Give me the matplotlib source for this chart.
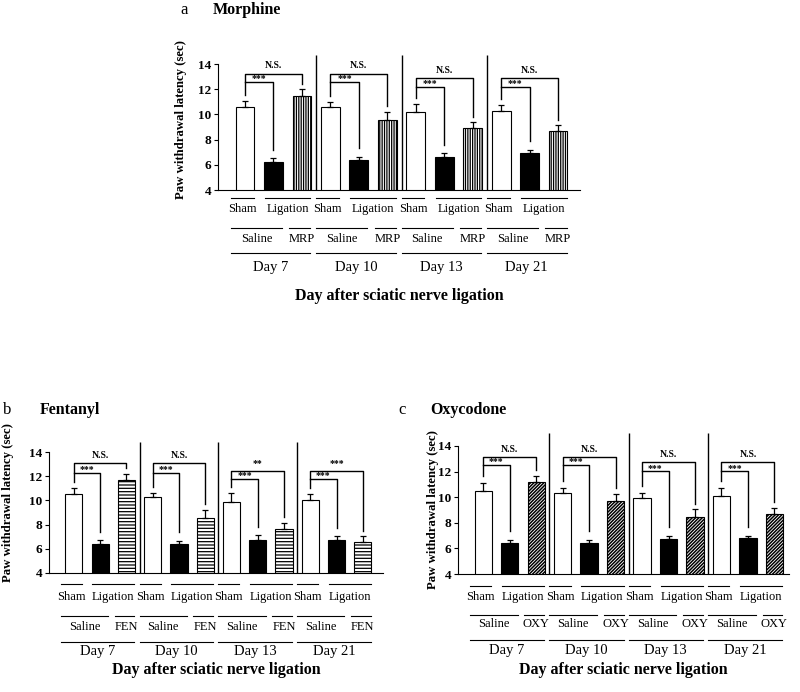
import numpy as np
import matplotlib.pyplot as plt
from matplotlib.transforms import blended_transform_factory

plt.rcParams['font.family'] = ['Liberation Serif', 'DejaVu Serif']
plt.rcParams['hatch.linewidth'] = 0.9

days = ['Day 7', 'Day 10', 'Day 13', 'Day 21']

# a: Morphine (MRP)
sham_a = [10.56, 10.61, 10.19, 10.24]
sham_a_err = [0.48, 0.35, 0.64, 0.48]
lig_a = [6.25, 6.41, 6.59, 6.94]
lig_a_err = [0.26, 0.21, 0.32, 0.23]
mrp = [11.46, 9.53, 8.95, 8.66]
mrp_err = [0.53, 0.69, 0.42, 0.47]
sig_a = ['N.S.', 'N.S.', 'N.S.', 'N.S.']

# b: Fentanyl (FEN)
sham_b = [10.50, 10.28, 9.87, 10.01]
sham_b_err = [0.55, 0.35, 0.77, 0.55]
lig_b = [6.42, 6.42, 6.70, 6.75]
lig_b_err = [0.28, 0.23, 0.40, 0.28]
fen = [11.71, 8.56, 7.66, 6.56]
fen_err = [0.50, 0.66, 0.49, 0.47]
sig_b = ['N.S.', 'N.S.', '**', '***']

# c: Oxycodone (OXY)
sham_c = [10.49, 10.34, 9.90, 10.08]
sham_c_err = [0.65, 0.39, 0.44, 0.65]
lig_c = [6.44, 6.44, 6.70, 6.78]
lig_c_err = [0.21, 0.21, 0.26, 0.21]
oxy = [11.19, 9.69, 8.47, 8.68]
oxy_err = [0.45, 0.54, 0.57, 0.49]
sig_c = ['N.S.', 'N.S.', 'N.S.', 'N.S.']

FIG_H = 692

fig = plt.figure(figsize=(8, 6.92), dpi=100)


def panel(rect, xlim, sham, sham_err, lig, lig_err, drug, drug_err, drug_name,
          hatch, hatch_lw, sig, inner_h, outer_h, sep_top, rows, ylab_xy, width=0.66):
    ax = fig.add_axes(rect)
    n = len(days)
    xs = np.arange(n) * 3
    ax.bar(xs, sham, width, color='white', edgecolor='k', lw=0.8)
    ax.bar(xs + 1, lig, width, color='black', edgecolor='k', lw=0.8)
    with plt.rc_context({'hatch.linewidth': hatch_lw}):
        ax.bar(xs + 2, drug, width, color='white', edgecolor='k', lw=0.8, hatch=hatch)
    for off, m, e in [(0, sham, sham_err), (1, lig, lig_err), (2, drug, drug_err)]:
        ax.errorbar(xs + off, m, yerr=[np.zeros(n), e], fmt='none', ecolor='k',
                    elinewidth=0.9, capsize=2.5, capthick=0.9)

    ax.set_xlim(*xlim)
    ax.set_ylim(4, 14)
    ax.set_yticks(range(4, 15, 2))
    ax.set_xticks([])
    ax.tick_params(axis='y', direction='out', length=3, width=0.8, labelsize=9.5, pad=2)
    for t in ax.get_yticklabels():
        t.set_fontweight('bold')
    for s in ['top', 'right']:
        ax.spines[s].set_visible(False)
    ax.spines['left'].set_linewidth(0.8)
    ax.spines['bottom'].set_linewidth(0.8)
    ax.set_ylabel('Paw withdrawal latency (sec)', fontsize=9.2, fontweight='bold')
    ax.yaxis.set_label_coords(*ylab_xy)

    # group separators
    ax.vlines(xs[1:] - 0.5, 4, sep_top, color='k', lw=1, clip_on=False)

    # significance brackets
    for g in range(n):
        x0, x1, x2 = xs[g], xs[g] + 1, xs[g] + 2
        ih, oh = inner_h[g], outer_h[g]
        sb = sham[g] + sham_err[g] + 0.5
        lb = lig[g] + lig_err[g] + 0.7
        db = drug[g] + drug_err[g] + 0.45
        ax.plot([x0, x0, x2, x2], [sb, oh, oh, db], color='k', lw=1, clip_on=False)
        ax.plot([x0, x1, x1], [ih, ih, lb], color='k', lw=1, clip_on=False)
        ax.annotate('***', ((x0 + x1) / 2, ih), xytext=(0, -1), textcoords='offset points',
                    ha='center', va='bottom', fontsize=7, fontweight='bold')
        ax.annotate(sig[g], ((x0 + x2) / 2, oh), xytext=(0, 2.5), textcoords='offset points',
                    ha='center', va='bottom', fontsize=7, fontweight='bold')

    # category rows under the axis
    tr = blended_transform_factory(ax.transData, ax.transAxes)
    hpx = rect[3] * FIG_H

    def yy(px):
        return -px / hpx

    def hline(a, b, px):
        ax.plot([a, b], [yy(px), yy(px)], transform=tr, color='k', lw=0.8, clip_on=False)

    for g in range(n):
        s, l, d = xs[g], xs[g] + 1, xs[g] + 2
        hline(s - 0.5, s + 0.3, rows[0])
        hline(l - 0.3, d + 0.3, rows[0])
        ax.text(s - 0.1, yy(rows[1]), 'Sham', transform=tr, ha='center', va='center', fontsize=9)
        ax.text((l + d) / 2, yy(rows[1]), 'Ligation', transform=tr, ha='center', va='center',
                fontsize=9)
        hline(s - 0.5, l + 0.3, rows[2])
        hline(d - 0.45, d + 0.3, rows[2])
        ax.text((s + l) / 2 - 0.1, yy(rows[3]), 'Saline', transform=tr, ha='center',
                va='center', fontsize=9)
        ax.text(d, yy(rows[3]), drug_name, transform=tr, ha='center', va='center', fontsize=9)
        hline(s - 0.5, d + 0.3, rows[4])
        ax.text(l - 0.1, yy(rows[5]), days[g], transform=tr, ha='center', va='center',
                fontsize=10.5)
    ax.text(0.5, yy(rows[6]), 'Day after sciatic nerve ligation', transform=ax.transAxes,
            ha='center', va='center', fontsize=11.5, fontweight='bold')
    return ax


panel([0.2725, 0.7254, 0.4525, 0.1821], (-0.95, 11.77), sham_a, sham_a_err, lig_a, lig_a_err,
      mrp, mrp_err, 'MRP', '|' * 7, 0.9, sig_a,
      [12.57, 12.57, 12.17, 12.17], [13.23, 13.23, 12.89, 12.89], 14.74,
      [8, 19, 38, 49, 63, 77, 106], (-0.087, 0.556))

panel([0.06125, 0.172, 0.4175, 0.1748], (-0.95, 11.77), sham_b, sham_b_err, lig_b, lig_b_err,
      fen, fen_err, 'FEN', '-' * 5, 0.9, sig_b,
      [12.29, 12.29, 11.77, 11.77], [13.09, 13.09, 12.4, 12.4], 14.85,
      [11, 24, 43, 54, 69, 79, 97], (-0.106, 0.58), width=0.65)

panel([0.5725, 0.1705, 0.41375, 0.185], (-0.95, 11.55), sham_c, sham_c_err, lig_c, lig_c_err,
      oxy, oxy_err, 'OXY', '/' * 10, 1.1, sig_c,
      [12.55, 12.55, 12.03, 12.03], [13.14, 13.14, 12.75, 12.75], 15.04,
      [12, 23, 41, 50, 66, 76, 96], (-0.057, 0.5), width=0.65)

# panel titles
fig.text(0.225, 0.9855, 'a', fontsize=12, va='center')
fig.text(0.266, 0.9855, 'Morphine', fontsize=11.5, fontweight='bold', va='center')
fig.text(0.004, 0.408, 'b', fontsize=12, va='center')
fig.text(0.05, 0.408, 'Fentanyl', fontsize=11.5, fontweight='bold', va='center')
fig.text(0.498, 0.408, 'c', fontsize=12, va='center')
fig.text(0.5375, 0.408, 'Oxycodone', fontsize=11.5, fontweight='bold', va='center')

fig.savefig('out.png', dpi=100)
